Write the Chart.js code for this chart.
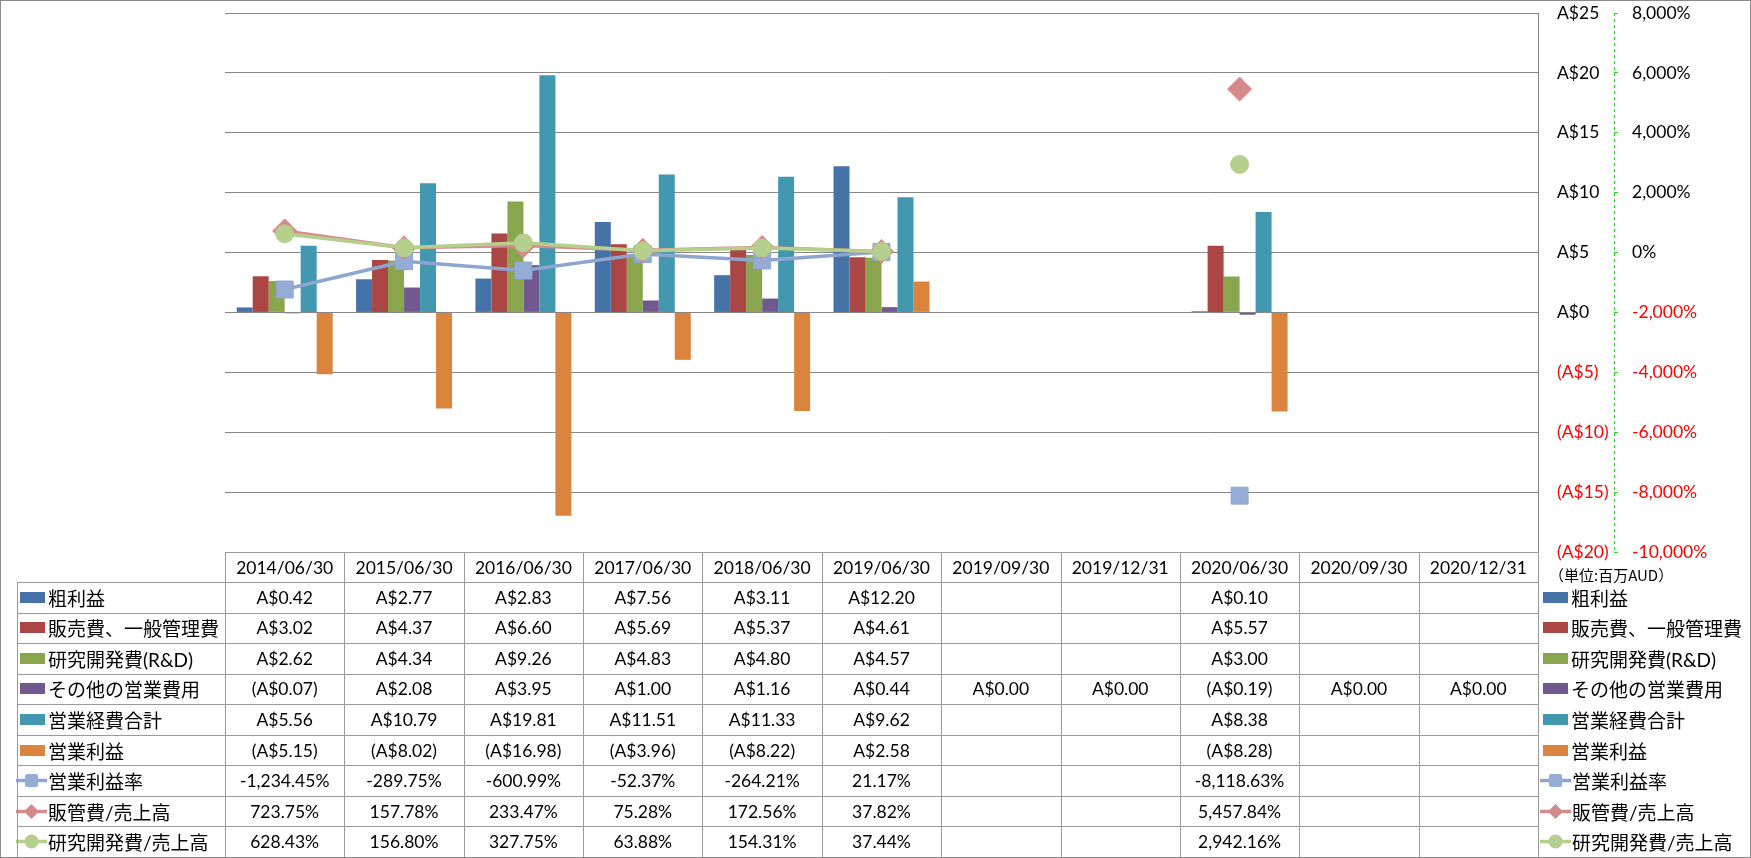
<!DOCTYPE html>
<html>
<head>
<meta charset="utf-8">
<script src="https://cdn.jsdelivr.net/npm/chart.js@4.4.1/dist/chart.umd.min.js"></script>
<style>
    body { margin: 0; background: #fff; }
    #wrap { position: relative; width: 1751px; height: 858px; overflow: hidden; font-family: Lato, "Noto Sans CJK JP", sans-serif; color: #000; }
    #chart { position: absolute; left: 0; top: 0; }
    #frame { position: absolute; left: 0; top: 0; width: 1749px; height: 856px; border: 1px solid #8a8a8a; pointer-events: none; }
    .hl, .vl { position: absolute; background: #9a9a9a; }
    .cell { position: absolute; display: flex; align-items: center; justify-content: center; font-size: 17.5px; white-space: nowrap; }
    .lab { position: absolute; display: flex; align-items: center; font-size: 19px; white-space: nowrap; font-family: Lato, "Noto Sans CJK JP", sans-serif; }
    .key { display: inline-block; flex: none; }
</style>
</head>
<body>
<div id="wrap">
    <canvas id="chart" width="1751" height="858"></canvas>
    <div id="table"></div>
    <div id="frame"></div>
</div>
<script>
const categories = ["2014/06/30", "2015/06/30", "2016/06/30", "2017/06/30", "2018/06/30", "2019/06/30",
    "2019/09/30", "2019/12/31", "2020/06/30", "2020/09/30", "2020/12/31"];

// 百万AUD
const grossProfit = [0.42, 2.77, 2.83, 7.56, 3.11, 12.20, null, null, 0.10, null, null];
const sgaExpense = [3.02, 4.37, 6.60, 5.69, 5.37, 4.61, null, null, 5.57, null, null];
const rdExpense = [2.62, 4.34, 9.26, 4.83, 4.80, 4.57, null, null, 3.00, null, null];
const otherOpex = [-0.07, 2.08, 3.95, 1.00, 1.16, 0.44, 0.00, 0.00, -0.19, 0.00, 0.00];
const totalOpex = [5.56, 10.79, 19.81, 11.51, 11.33, 9.62, null, null, 8.38, null, null];
const operatingIncome = [-5.15, -8.02, -16.98, -3.96, -8.22, 2.58, null, null, -8.28, null, null];

// %
const operatingMargin = [-1234.45, -289.75, -600.99, -52.37, -264.21, 21.17, null, null, -8118.63, null, null];
const sgaRatio = [723.75, 157.78, 233.47, 75.28, 172.56, 37.82, null, null, 5457.84, null, null];
const rdRatio = [628.43, 156.80, 327.75, 63.88, 154.31, 37.44, null, null, 2942.16, null, null];

const barSeries = [
    { label: "粗利益", data: grossProfit, color: "#4572A7" },
    { label: "販売費、一般管理費", data: sgaExpense, color: "#AA4643" },
    { label: "研究開発費(R&D)", data: rdExpense, color: "#89A54E" },
    { label: "その他の営業費用", data: otherOpex, color: "#71588F" },
    { label: "営業経費合計", data: totalOpex, color: "#4198AF" },
    { label: "営業利益", data: operatingIncome, color: "#DB843D" }
];
const lineSeries = [
    { label: "営業利益率", data: operatingMargin, color: "#8EA6CF", fill: "#95ADD6", style: "rect", radius: 12 },
    { label: "販管費/売上高", data: sgaRatio, color: "#D68C8E", fill: "#D4898B", style: "rectRot", radius: 12 },
    { label: "研究開発費/売上高", data: rdRatio, color: "#B5CF8D", fill: "#B5CF8D", style: "circle", radius: 9 }
];

const fontTick = { family: "Lato", size: 17.5 };
const axisGreen = "#22DD22";

function fmtMoney(v) {
    if (v === null) return "";
    return v < 0 ? "(A$" + (-v).toFixed(2) + ")" : "A$" + v.toFixed(2);
}
function fmtPct(v) {
    if (v === null) return "";
    return v.toLocaleString("en-US", { minimumFractionDigits: 2, maximumFractionDigits: 2 }) + "%";
}

// Chart
const datasets = [];
barSeries.forEach(s => {
    datasets.push({
        type: "bar",
        label: s.label,
        data: s.data,
        yAxisID: "y",
        backgroundColor: s.color,
        borderWidth: 0,
        categoryPercentage: 0.804,
        barPercentage: 1.0,
        order: 10
    });
});
lineSeries.forEach((s, i) => {
    datasets.push({
        type: "line",
        label: s.label,
        data: s.data,
        yAxisID: "y1",
        borderColor: s.color,
        borderWidth: 3.5,
        pointStyle: s.style,
        pointRadius: s.radius,
        pointHoverRadius: s.radius,
        pointBackgroundColor: s.fill,
        pointBorderColor: s.color,
        pointBorderWidth: 1,
        tension: 0,
        order: 3 - i
    });
});

// fixed axis boxes so the plot lines up with the table columns
function fixAxis(width) {
    return s => {
        s.width = width;
        s.paddingTop = 0;
        s.paddingBottom = 0;
    };
}

// dashed line for the secondary (percent) axis
const dashedAxis = {
    id: "dashedAxis",
    afterDraw(chart) {
        const s = chart.scales.y1;
        const ctx = chart.ctx;
        const x = Math.round(s.left) + 0.5;
        ctx.save();
        ctx.strokeStyle = axisGreen;
        ctx.lineWidth = 1;
        ctx.setLineDash([3, 3]);
        ctx.beginPath();
        ctx.moveTo(x, s.top);
        ctx.lineTo(x, s.bottom);
        ctx.stroke();
        ctx.restore();
    }
};

new Chart(document.getElementById("chart").getContext("2d"), {
    type: "bar",
    data: { labels: categories, datasets: datasets },
    plugins: [dashedAxis],
    options: {
        responsive: false,
        animation: false,
        devicePixelRatio: 1,
        layout: { padding: { left: 225, top: 13, right: 37, bottom: 306 } },
        plugins: { legend: { display: false }, tooltip: { enabled: false } },
        scales: {
            x: { display: false, offset: true },
            y: {
                position: "right",
                weight: 0,
                min: -20,
                max: 25,
                ticks: {
                    stepSize: 5,
                    padding: 19,
                    font: fontTick,
                    color: c => c.tick.value < 0 ? "#FF0000" : "#000",
                    callback: v => v < 0 ? "(A$" + (-v) + ")" : "A$" + v
                },
                grid: { color: "#878787", drawTicks: false },
                border: { display: true, color: "#878787" },
                afterFit: fixAxis(76)
            },
            y1: {
                position: "right",
                weight: 1,
                min: -10000,
                max: 8000,
                ticks: {
                    stepSize: 2000,
                    padding: 14,
                    font: fontTick,
                    color: c => c.tick.value < 0 ? "#FF0000" : "#000",
                    callback: v => v.toLocaleString("en-US") + "%"
                },
                grid: { drawOnChartArea: false, drawTicks: true, tickLength: 4, tickColor: axisGreen },
                border: { display: false },
                afterFit: fixAxis(100)
            }
        }
    }
});

// Data table under the plot
const table = document.getElementById("table");
const colLeft = 225, colRight = 1538, labelLeft = 17;
const colW = (colRight - colLeft) / categories.length;
const headTop = 552, rowTop = 582, rowBottom = 857;
const rowH = (rowBottom - rowTop) / 9;

function addDiv(cls, x, y, w, h, html) {
    const d = document.createElement("div");
    d.className = cls;
    d.style.left = x + "px";
    d.style.top = y + "px";
    d.style.width = w + "px";
    d.style.height = h + "px";
    if (html !== undefined) d.innerHTML = html;
    table.appendChild(d);
    return d;
}

function keyHtml(item, isLine) {
    if (!isLine) {
        return '<span class="key" style="width:25px;height:11px;background:' + item.color + ';margin:0 3px 0 3px"></span>';
    }
    let marker = "";
    if (item.style === "rect") {
        marker = '<rect x="9" y="2" width="13" height="13" rx="2" fill="' + item.fill + '"/>';
    } else if (item.style === "rectRot") {
        marker = '<polygon points="15.5,1 23,8.5 15.5,16 8,8.5" fill="' + item.fill + '"/>';
    } else {
        marker = '<circle cx="15.5" cy="8.5" r="7" fill="' + item.fill + '"/>';
    }
    return '<svg class="key" width="31" height="17" style="margin-right:1px"><line x1="0" y1="8.5" x2="31" y2="8.5" stroke="' +
        item.color + '" stroke-width="3.5"/>' + marker + '</svg>';
}

// header
categories.forEach((c, i) => {
    addDiv("cell", colLeft + i * colW, headTop, colW, rowTop - headTop, c);
});

const rows = barSeries.map(s => ({ item: s, line: false, text: s.data.map(fmtMoney) }))
    .concat(lineSeries.map(s => ({ item: s, line: true, text: s.data.map(fmtPct) })));

rows.forEach((r, ri) => {
    const y = rowTop + ri * rowH;
    const lab = addDiv("lab", labelLeft, y, colLeft - labelLeft, rowH, keyHtml(r.item, r.line) + "<span>" + r.item.label + "</span>");
    if (r.line) lab.style.marginLeft = "-1px";
    r.text.forEach((t, i) => {
        addDiv("cell", colLeft + i * colW, y, colW, rowH, t);
    });
    addDiv("lab", colRight + 2, y, 1751 - colRight - 4, rowH, keyHtml(r.item, r.line) + "<span>" + r.item.label + "</span>");
});

// grid lines of the table
addDiv("hl", colLeft, headTop, colRight - colLeft + 1, 1);
for (let r = 0; r <= 9; r++) {
    addDiv("hl", labelLeft, Math.round(rowTop + r * rowH), colRight - labelLeft + 1, 1);
}
addDiv("vl", labelLeft, rowTop, 1, rowBottom - rowTop);
for (let i = 0; i <= categories.length; i++) {
    addDiv("vl", Math.round(colLeft + i * colW), headTop, 1, rowBottom - headTop);
}

// unit note
const unit = addDiv("lab", 1549, 563, 200, 22, "（単位:百万AUD）");
unit.style.fontSize = "15px";
unit.style.fontFamily = '"Noto Sans CJK JP", sans-serif';
</script>
</body>
</html>
